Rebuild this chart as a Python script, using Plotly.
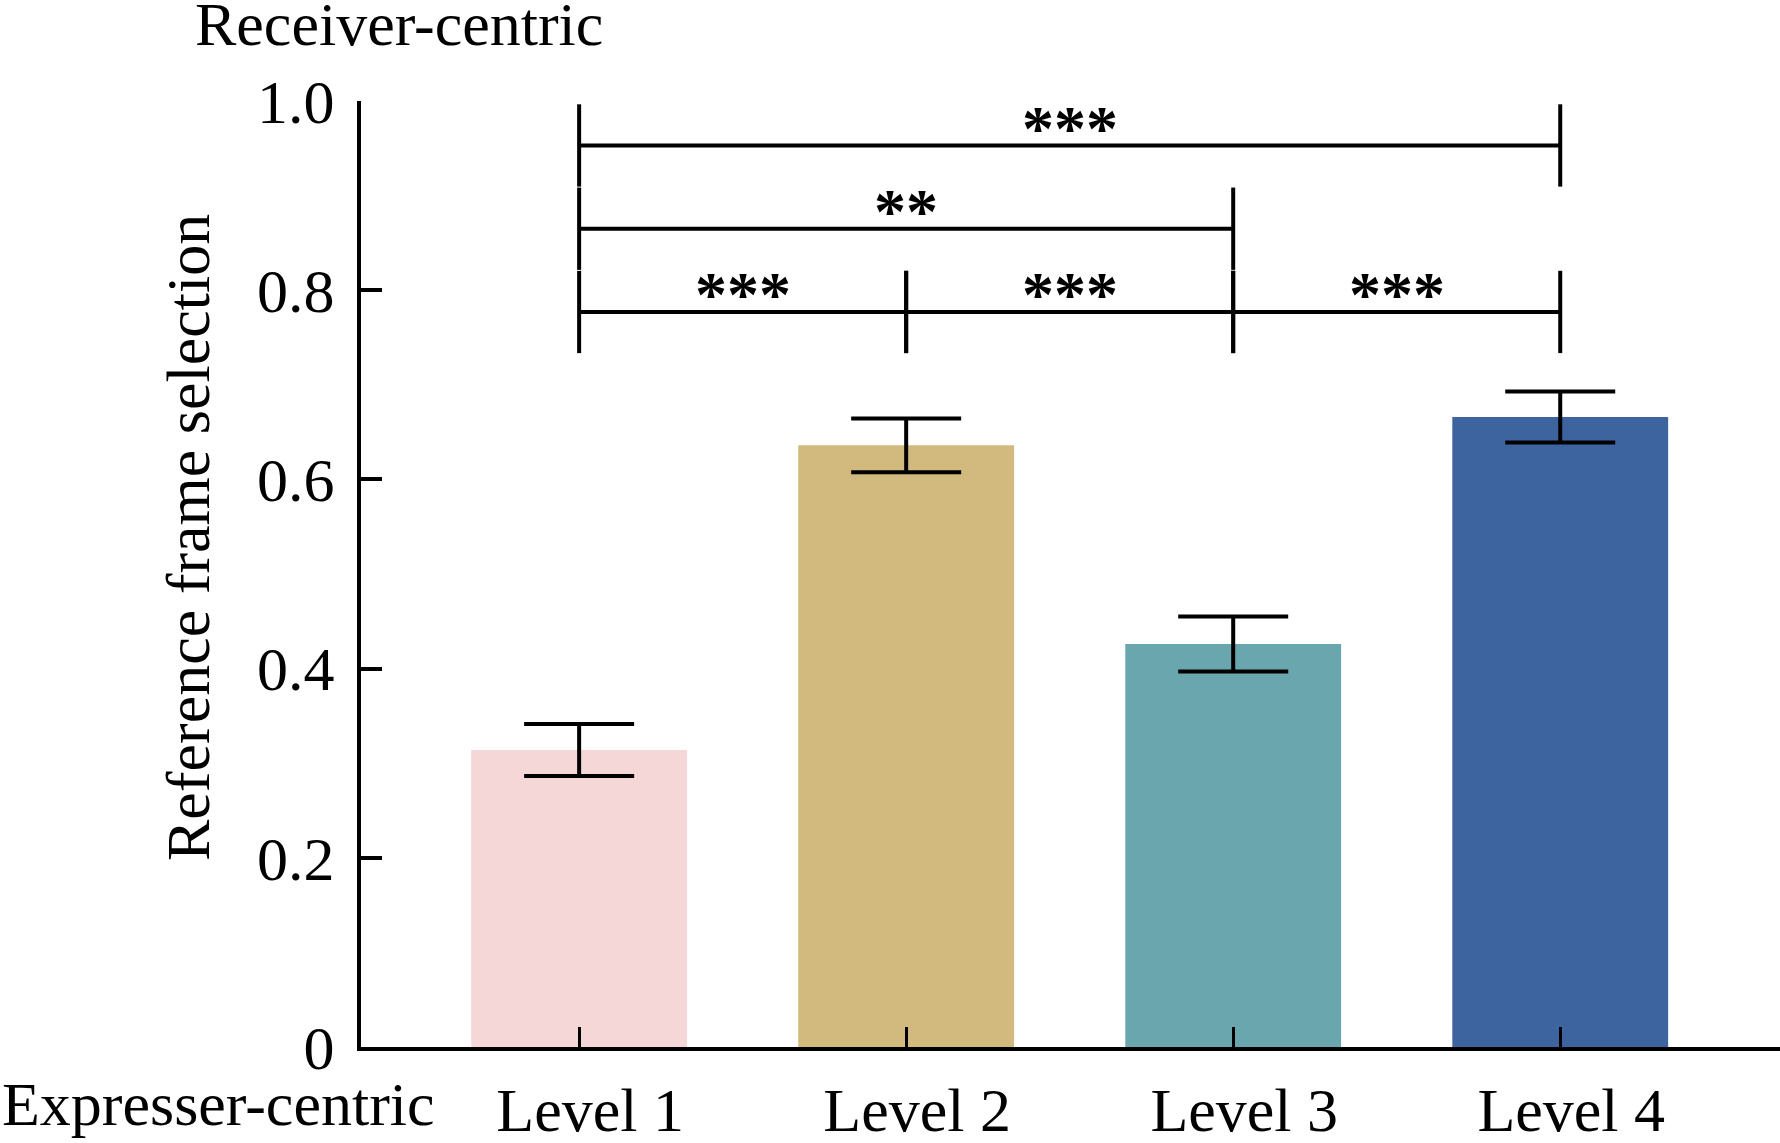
import plotly.graph_objects as go

# ---- data ----
categories = ["Level 1", "Level 2", "Level 3", "Level 4"]
means = [0.314, 0.636, 0.426, 0.666]
errors = [0.0275, 0.0285, 0.029, 0.027]
bar_colors = ["#F5D7D8", "#D2B97D", "#69A6AD", "#3E64A0"]
y_tickvals = [0, 0.2, 0.4, 0.6, 0.8, 1.0]
y_ticktext = ["0", "0.2", "0.4", "0.6", "0.8", "1.0"]
# significance comparisons: (group a, group b, label, bracket row)
comp_a = [0, 1, 2, 0, 0]
comp_b = [1, 2, 3, 2, 3]
comp_label = ["***", "***", "***", "**", "***"]
comp_row = [0, 0, 0, 1, 2]

FONT = "Liberation Serif"
W, H = 1780, 1143
ML, MR, MT, MB = 361, 0, 101, 96
PW = W - ML - MR
PH = H - MT - MB

row_base = 0.777
row_step = 0.088
half_tick = 0.0435
LW = 4


def px(fx):
    return (fx - ML) / PW


def py(fy):
    return (H - MB - fy) / PH


fig = go.Figure()
fig.add_trace(go.Bar(
    x=list(range(len(categories))),
    y=means,
    width=0.66,
    marker=dict(color=bar_colors, line=dict(width=0)),
    error_y=dict(type="data", array=errors, visible=True,
                 color="black", thickness=LW, width=55),
    showlegend=False,
))

shapes = []
annotations = []
for a, b, lab, r in zip(comp_a, comp_b, comp_label, comp_row):
    yl = row_base + r * row_step
    shapes.append(dict(type="line", xref="x", yref="y", x0=a, x1=b, y0=yl, y1=yl,
                       line=dict(color="black", width=LW)))
    for xx in (a, b):
        shapes.append(dict(type="line", xref="x", yref="y", x0=xx, x1=xx,
                           y0=yl - half_tick, y1=yl + half_tick,
                           line=dict(color="black", width=LW)))
    annotations.append(dict(x=(a + b) / 2, y=yl + 0.018, xref="x", yref="y",
                            text=lab, showarrow=False, xanchor="center", yanchor="middle",
                            font=dict(family=FONT, size=64, color="black", weight="bold")))

annotations.append(dict(x=px(193), y=py(24), xref="paper", yref="paper",
                        text="Receiver-centric", showarrow=False,
                        xanchor="left", yanchor="middle",
                        font=dict(family=FONT, size=62, color="black")))
annotations.append(dict(x=px(0), y=py(1103.5), xref="paper", yref="paper",
                        text="Expresser-centric", showarrow=False,
                        xanchor="left", yanchor="middle",
                        font=dict(family=FONT, size=62, color="black")))
annotations.append(dict(x=px(188), y=py(538), xref="paper", yref="paper",
                        text="Reference frame selection", showarrow=False,
                        textangle=-90, xanchor="center", yanchor="middle",
                        font=dict(family=FONT, size=62, color="black")))

fig.update_layout(
    width=W, height=H,
    margin=dict(l=ML, r=MR, t=MT, b=MB, autoexpand=False),
    paper_bgcolor="white", plot_bgcolor="white",
    font=dict(family=FONT, size=62, color="black"),
    shapes=shapes, annotations=annotations,
)
fig.update_xaxes(
    range=[-0.667, 3.672],
    tickvals=list(range(len(categories))), ticktext=categories,
    ticks="inside", ticklen=20, tickwidth=3, tickcolor="black",
    showline=True, linecolor="black", linewidth=LW,
    showgrid=False, zeroline=False, automargin=False,
    ticklabelstandoff=6, ticklabelshift=11,
    tickfont=dict(family=FONT, size=62, color="black"),
)
fig.update_yaxes(
    range=[0, 1.0],
    tickvals=y_tickvals, ticktext=y_ticktext,
    ticks="inside", ticklen=21, tickwidth=LW, tickcolor="black",
    showline=True, linecolor="black", linewidth=LW,
    showgrid=False, zeroline=False, automargin=False,
    ticklabelstandoff=10,
    tickfont=dict(family=FONT, size=62, color="black"),
)

fig.write_html("out.html", config={"displayModeBar": False},
               post_script="document.body.style.margin='0px';document.body.style.padding='0px';")
